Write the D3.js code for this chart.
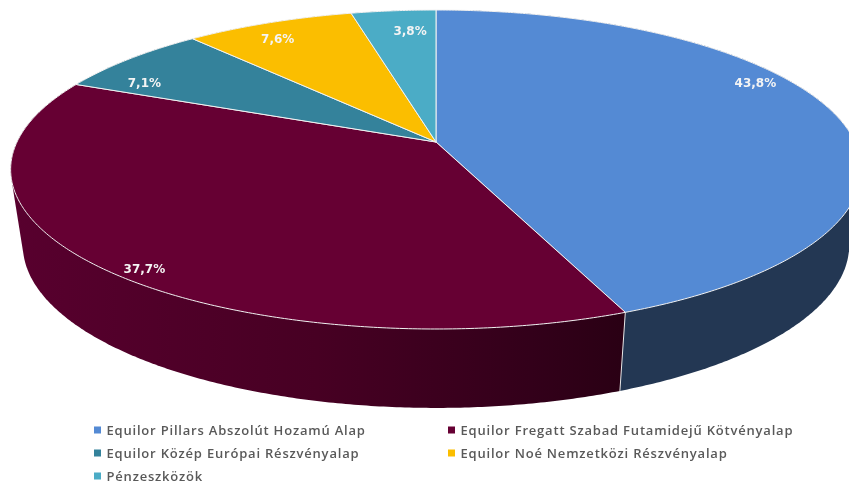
<!DOCTYPE html>
<html><head><meta charset="utf-8">
<script src="https://d3js.org/d3.v7.min.js"></script>
<style>html,body{margin:0;padding:0;background:#fff;overflow:hidden}svg{display:block;filter:blur(0.35px)}</style>
</head><body><svg id="c" width="849" height="483"></svg>
<script>
const categories = ["Equilor Pillars Abszolút Hozamú Alap","Equilor Fregatt Szabad Futamidejű Kötvényalap","Equilor Közép Európai Részvényalap","Equilor Noé Nemzetközi Részvényalap","Pénzeszközök"];
const shares = [43.8,37.7,7.1,7.6,3.8];
const labels = ["43,8%","37,7%","7,1%","7,6%","3,8%"];
const topColors = ["#548ad4","#660033","#34829b","#fbbe00","#4bacc6"];
const labelRadius = [0.912,0.942,0.849,0.865,0.821];
const labelShiftDeg = [-15.4,-5.2,-7.5,-2.2,1.9];

const svg = d3.select("#c");
const K = -0.1724;
const project = (plane) => (ang, r=1) => {
  const u = r*Math.sin(ang), v = -r*Math.cos(ang), w = 1 + K*v;
  return [436 + plane.b*u/w, plane.y0 + plane.a*v/w];
};
const topP = project({b:419,a:154.76,y0:142});
const botP = project({b:407,a:158,y0:217});
const slices = d3.pie().sort(null).value(d=>d)(shares);
const line = d3.line();
const deg = Math.PI/180;
const angles = (s,e,step) => { const n=Math.max(2,Math.ceil((e-s)/step)); return d3.range(n+1).map(i=>s+(e-s)*i/n); };

// maroon side shading
const grad = svg.append("defs").append("linearGradient").attr("id","sideGrad")
  .attr("gradientUnits","userSpaceOnUse").attr("x1",12).attr("x2",622).attr("y1",0).attr("y2",0);
[[0,"#58002e"],[0.5,"#470023"],[0.85,"#33001a"],[1,"#2a0014"]].forEach(([o,c])=>grad.append("stop").attr("offset",o).attr("stop-color",c));
const sideFill = ["#233753","url(#sideGrad)","#235765","#a07a00","#2f6c7c"];

// sides: convex hull of each slice's top and bottom arcs (the top face covers the rest)
svg.append("g").selectAll("path").data(slices).join("path")
  .attr("d",s=>{const as=angles(s.startAngle,s.endAngle,0.5*deg);
    return line(d3.polygonHull([...as.map(a=>topP(a)),...as.map(a=>botP(a))]))+"Z";})
  .attr("fill",(s,i)=>sideFill[i]);
// edge between the two front slices
svg.append("path").attr("d",line([topP(slices[1].startAngle),botP(slices[1].startAngle)]))
  .attr("stroke","#e8e8e8").attr("stroke-width",1).attr("fill","none");

// top
svg.append("g").selectAll("path").data(slices).join("path")
  .attr("d",s=>line([[436,142],...angles(s.startAngle,s.endAngle,0.5*deg).map(a=>topP(a))])+"Z")
  .attr("fill",(s,i)=>topColors[i])
  .attr("stroke","#f2f2f2").attr("stroke-width",1).attr("stroke-linejoin","round");

// data labels
svg.append("g").selectAll("text").data(slices).join("text")
  .attr("transform",(s,i)=>{const p=topP((s.startAngle+s.endAngle)/2+labelShiftDeg[i]*deg,labelRadius[i]);return `translate(${p[0]},${p[1]})`;})
  .attr("text-anchor","middle").attr("dominant-baseline","central")
  .attr("font-family","'DejaVu Sans'").attr("font-weight",700).attr("font-size",12)
  .attr("fill","#f4f4f4").text((s,i)=>labels[i]);

// legend
const colX = d3.scaleOrdinal().domain([0,1]).range([94,448]);
const rowY = d3.scalePoint().domain([0,1,2]).range([430,476]);
const lg = svg.append("g").selectAll("g").data(categories).join("g")
  .attr("transform",(d,i)=>`translate(${colX(i%2)},${rowY(Math.floor(i/2))})`);
lg.append("rect").attr("x",0).attr("y",-3.5).attr("width",7).attr("height",7).attr("fill",(d,i)=>topColors[i]);
lg.append("text").attr("x",12.5).attr("dominant-baseline","central")
  .attr("font-family","'Open Sans'").attr("font-weight",600).attr("font-size",13)
  .attr("letter-spacing",0.8).attr("fill","#595959").text(d=>d);
</script></body></html>
